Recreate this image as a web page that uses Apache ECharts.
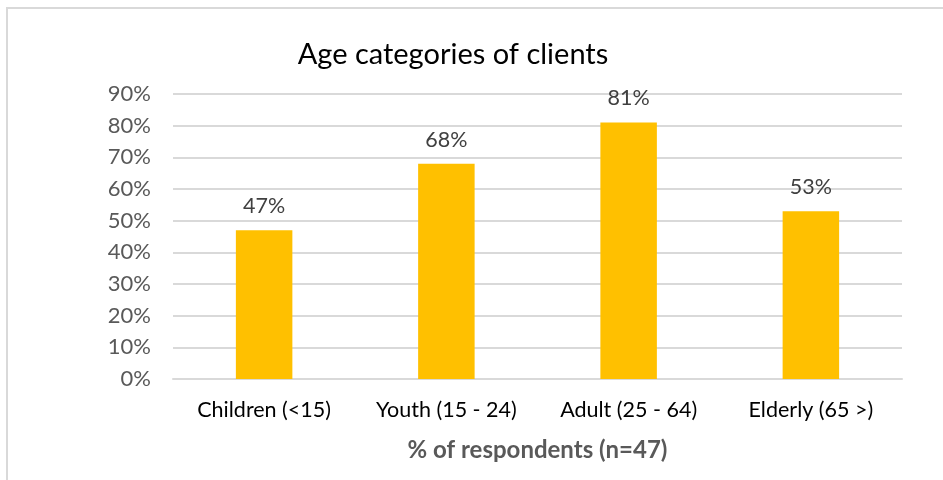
<!DOCTYPE html>
<html>
<head>
<meta charset="utf-8">
<script src="https://cdn.jsdelivr.net/npm/echarts@6/dist/echarts.min.js"></script>
<style>
  html, body { margin: 0; padding: 0; background: #fff; }
  #chart { width: 943px; height: 480px; }
</style>
</head>
<body>
<div id="chart"></div>
<script>
// Age groups and share of respondents serving each group
const categories = ['Children (<15)', 'Youth (15 - 24)', 'Adult (25 - 64)', 'Elderly (65 >)'];
const shares = [47, 68, 81, 53];
const yTicks = { min: 0, max: 90, step: 10 };

const FONT = 'Lato, "Open Sans", sans-serif';

const chart = echarts.init(document.getElementById('chart'), null, { renderer: 'canvas' });
chart.setOption({
  animation: false,
  backgroundColor: '#ffffff',
  textStyle: { fontFamily: FONT },
  graphic: [{
    type: 'rect',
    shape: { x: 7, y: 8, width: 960, height: 500 },
    style: { fill: 'none', stroke: '#d9d9d9', lineWidth: 2 },
    silent: true
  }],
  title: {
    text: 'Age categories of clients',
    left: 448,
    top: 35,
    textAlign: 'center',
    textStyle: { fontFamily: FONT, fontSize: 29, fontWeight: 'normal', color: '#000000' }
  },
  grid: { left: 173, right: 41, top: 94, bottom: 101, containLabel: false },
  xAxis: {
    type: 'category',
    data: categories,
    name: '% of respondents (n=47)',
    nameLocation: 'middle',
    nameGap: 59,
    nameTextStyle: { fontFamily: FONT, fontSize: 24, fontWeight: 'bold', color: '#595959' },
    axisLine: { lineStyle: { color: '#d9d9d9', width: 2 } },
    axisTick: { show: false },
    axisLabel: { interval: 0, hideOverlap: false, margin: 20, fontSize: 21.5, color: '#000000', fontFamily: FONT }
  },
  yAxis: {
    type: 'value',
    min: yTicks.min,
    max: yTicks.max,
    interval: yTicks.step,
    axisLine: { show: false },
    axisTick: { show: false },
    splitLine: { lineStyle: { color: '#d9d9d9', width: 2 } },
    axisLabel: { margin: 22, fontSize: 22, color: '#595959', fontFamily: FONT, formatter: '{value}%' }
  },
  series: [{
    type: 'bar',
    data: shares,
    barWidth: '31%',
    itemStyle: { color: '#ffc000' },
    label: {
      show: true,
      position: 'top',
      distance: 13,
      formatter: '{c}%',
      fontSize: 21.5,
      color: '#404040',
      fontFamily: FONT
    }
  }]
});
</script>
</body>
</html>
